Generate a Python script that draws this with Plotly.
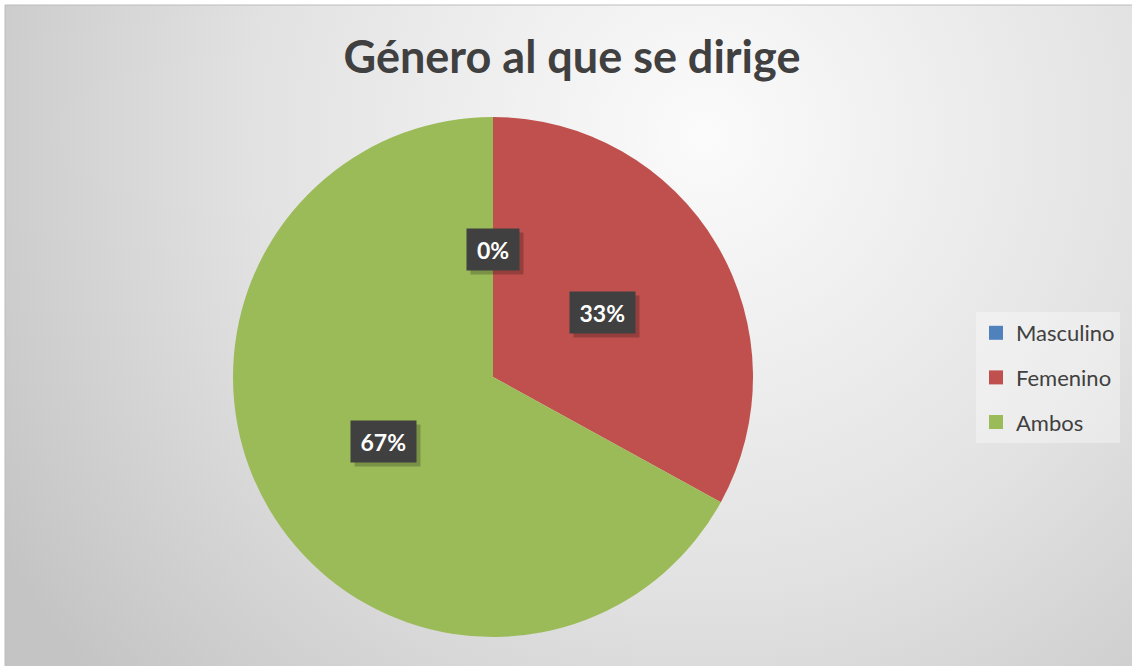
import base64
import math
import plotly.graph_objects as go

# ---- data ----
categories = ["Masculino", "Femenino", "Ambos"]
percent_values = [0, 33, 67]
slice_colors = ["#4F81BD", "#C0504D", "#9BBB59"]
chart_title = "Género al que se dirige"

W, H = 1132, 666

# ---- background radial gradient (as SVG image) ----
svg = f"""<svg xmlns='http://www.w3.org/2000/svg' width='1127' height='661' viewBox='0 0 1127 661' preserveAspectRatio='none'>
<defs><radialGradient id='g' gradientUnits='userSpaceOnUse' cx='700' cy='130' r='820'>
<stop offset='0' stop-color='#fbfbfb'/><stop offset='0.55' stop-color='#e2e2e2'/><stop offset='1' stop-color='#c4c4c4'/>
</radialGradient></defs>
<rect x='0' y='0' width='1127' height='661' fill='url(#g)'/>
</svg>"""
svg_uri = "data:image/svg+xml;base64," + base64.b64encode(svg.encode()).decode()

# pie geometry (pixels)
cx, cy, r = 493, 377, 260
dom_x = [(cx - r) / W, (cx + r) / W]
dom_y = [1 - (cy + r) / H, 1 - (cy - r) / H]

fig = go.Figure()
fig.add_trace(go.Pie(
    labels=categories, values=percent_values, sort=False, direction="clockwise",
    rotation=0, marker=dict(colors=slice_colors, line=dict(width=0)),
    textinfo="none", hoverinfo="label+percent", showlegend=False,
    domain=dict(x=dom_x, y=dom_y),
))

# legend via dummy traces (to get Excel-like spacing)
for i, (name, col) in enumerate(zip(categories, slice_colors)):
    fig.add_trace(go.Scatter(
        x=[None], y=[None], mode="markers", name=name, legendgroup=f"g{i}",
        marker=dict(symbol="square", size=14, color=col),
    ))

# data labels at mid-angle of each slice, half radius
total = sum(percent_values)
start = 0.0
annotations = []
for v in percent_values:
    frac = v / total
    mid = (start + frac / 2) * 2 * math.pi
    start += frac
    px = cx + 0.49 * r * math.sin(mid)
    py = cy - 0.49 * r * math.cos(mid)
    label = f"{round(v)}%"
    bw = 12.5 * len(label) + 13
    # shadow box
    annotations.append(dict(
        x=px / W, y=1 - py / H, xref="paper", yref="paper", xshift=4, yshift=-4,
        text=" ", width=bw, height=27, showarrow=False,
        font=dict(family="Lato", size=23),
        bgcolor="rgba(0,0,0,0.22)", borderpad=7,
    ))
    annotations.append(dict(
        x=px / W, y=1 - py / H, xref="paper", yref="paper",
        text=f"<b>{label}</b>", width=bw, height=27, showarrow=False,
        font=dict(family="Lato", size=23, color="white"),
        bgcolor="#404040", borderpad=7,
    ))

fig.update_layout(
    width=W, height=H,
    margin=dict(l=0, r=0, t=0, b=0),
    paper_bgcolor="white", plot_bgcolor="rgba(0,0,0,0)",
    xaxis=dict(visible=False), yaxis=dict(visible=False),
    title=dict(text=f"<b>{chart_title}</b>", x=572 / W, xanchor="center",
               y=1 - 57 / H, yanchor="middle",
               font=dict(family="Lato", size=45, color="#404040")),
    legend=dict(x=976 / W, y=1 - 312 / H, xanchor="left", yanchor="top",
                bgcolor="rgba(255,255,255,0.35)", tracegroupgap=13,
                font=dict(family="Lato", size=22, color="#404040"),
                itemclick=False),
    images=[dict(source=svg_uri, xref="paper", yref="paper", x=5 / W, y=1 - 5 / H,
                 sizex=(W - 5) / W, sizey=(H - 5) / H, sizing="stretch",
                 xanchor="left", yanchor="top", layer="below")],
    shapes=[dict(type="rect", xref="paper", yref="paper", x0=5 / W, y0=-0.01,
                 x1=1.01, y1=1 - 5 / H, line=dict(color="#bcbcbc", width=1),
                 fillcolor="rgba(0,0,0,0)", layer="below")],
    annotations=annotations,
)

fig.write_html("out.html", config={"displayModeBar": False},
               post_script="document.body.style.margin='0';document.body.style.overflow='hidden';")
